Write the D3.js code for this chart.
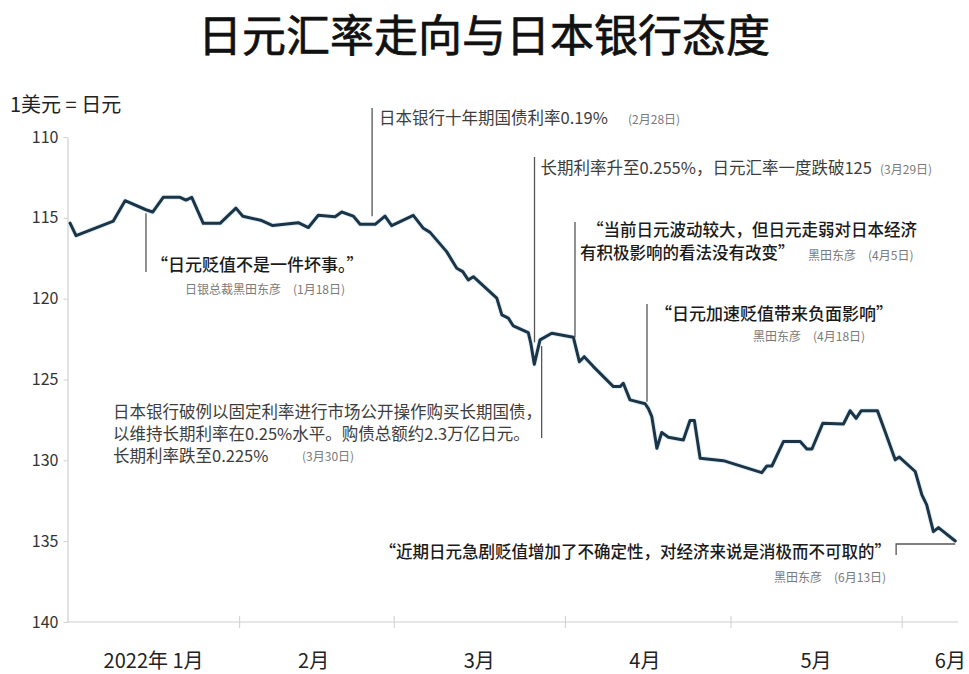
<!DOCTYPE html>
<html><head><meta charset="utf-8">
<script src="https://cdn.jsdelivr.net/npm/d3@7"></script>
<style>
html,body{margin:0;padding:0;background:#fff;}
svg{display:block;font-family:"Noto Sans CJK SC","Noto Sans",sans-serif;}
</style></head><body>
<svg id="chart" width="969" height="674"></svg>
<script>
// ---------- data ----------
const title = "日元汇率走向与日本银行态度";
const unitLabel = "1美元 = 日元";
const yTicks = [110, 115, 120, 125, 130, 135, 140];
const monthTicks = ["2022-02-01T00", "2022-03-01T00", "2022-04-01T00", "2022-05-01T00", "2022-06-01T00"];
const monthLabels = ["2022年 1月", "2月", "3月", "4月", "5月", "6月"];
const monthLabelDates = ["2022-01-16T12", "2022-02-14T12", "2022-03-16T12", "2022-04-15T12", "2022-05-16T12", "2022-06-09T20"];

const dates = [
  "2022-01-01T09","2022-01-02T11","2022-01-09T05","2022-01-11T08","2022-01-15T03","2022-01-16T08",
  "2022-01-18T06","2022-01-21T07","2022-01-22T09","2022-01-23T10","2022-01-25T12","2022-01-28T13",
  "2022-01-31T10","2022-02-01T16","2022-02-05T02","2022-02-07T02","2022-02-11T17","2022-02-13T13",
  "2022-02-15T08","2022-02-18T09","2022-02-19T14","2022-02-21T16","2022-02-22T22","2022-02-25T15",
  "2022-02-27T10","2022-02-28T15","2022-03-04T13","2022-03-06T09","2022-03-07T14","2022-03-10T14",
  "2022-03-12T10","2022-03-13T12","2022-03-14T12","2022-03-15T10","2022-03-19T16","2022-03-20T14",
  "2022-03-21T18","2022-03-22T16","2022-03-25T09","2022-03-25T20","2022-03-26T11","2022-03-27T12",
  "2022-03-29T15","2022-04-02T13","2022-04-03T15","2022-04-04T12","2022-04-06T04","2022-04-09T19",
  "2022-04-11T00","2022-04-11T14","2022-04-12T19","2022-04-15T13","2022-04-16T03","2022-04-16T18",
  "2022-04-17T16","2022-04-18T13","2022-04-19T18","2022-04-22T11","2022-04-23T16","2022-04-24T11",
  "2022-04-25T12","2022-04-29T17","2022-05-06T16","2022-05-07T14","2022-05-08T12","2022-05-10T14",
  "2022-05-13T15","2022-05-14T20","2022-05-15T18","2022-05-17T17","2022-05-21T11","2022-05-22T16",
  "2022-05-23T18","2022-05-24T16","2022-05-27T15","2022-05-29T00","2022-05-30T20","2022-05-31T14",
  "2022-06-03T11","2022-06-04T16","2022-06-05T13","2022-06-06T18","2022-06-07T16","2022-06-10T17"
];
const rates = [
  115.33,116.10,115.20,113.94,114.50,114.64,
  113.73,113.73,113.90,113.73,115.34,115.34,
  114.40,114.90,115.17,115.48,115.30,115.60,
  114.84,114.93,114.64,114.89,115.40,115.40,
  114.89,115.48,114.85,115.65,115.90,117.09,
  118.12,118.33,118.84,118.64,119.97,121.00,
  121.20,121.69,122.10,122.76,124.06,122.55,
  122.14,122.39,123.90,123.59,124.20,125.44,
  125.44,125.23,126.26,126.50,126.80,127.30,
  129.25,128.28,128.57,128.74,127.54,127.54,
  129.87,130.02,130.76,130.35,130.35,128.84,
  128.84,129.30,129.30,127.71,127.75,126.93,
  127.40,126.94,126.94,128.22,129.97,129.80,
  130.69,132.14,132.76,134.41,134.16,134.99
];

// annotations: anchor date on the line, anchor value, texts
const annDates  = ["2022-01-15T03","2022-02-25T02","2022-03-26T12","2022-03-27T19","2022-04-02T20","2022-04-15T21","2022-05-31T00"];
const annValues = [114.6, 115.4, 122.7, 122.5, 122.4, 126.5, 134.99];
const annTexts = [
  ["“日元贬值不是一件坏事。”"],
  ["日本银行十年期国债利率0.19%"],
  ["长期利率升至0.255%，日元汇率一度跌破125"],
  ["日本银行破例以固定利率进行市场公开操作购买长期国债，", "以维持长期利率在0.25%水平。购债总额约2.3万亿日元。", "长期利率跌至0.225%"],
  ["“当前日元波动较大，但日元走弱对日本经济", "有积极影响的看法没有改变”"],
  ["“日元加速贬值带来负面影响”"],
  ["“近期日元急剧贬值增加了不确定性，对经济来说是消极而不可取的”"]
];
const annNotes = [
  "日银总裁黑田东彦　(1月18日)",
  "(2月28日)",
  "(3月29日)",
  "(3月30日)",
  "黑田东彦　(4月5日)",
  "黑田东彦　(4月18日)",
  "黑田东彦　(6月13日)"
];

// ---------- chart ----------
const parse = d3.utcParse("%Y-%m-%dT%H");
const series = dates.map((d, i) => ({ date: parse(d), value: rates[i] }));

const svg = d3.select("#chart");
const plotL = 67.5, plotR = 958, plotT = 137, plotB = 622;

const x = d3.scaleUtc()
  .domain([parse("2022-01-01T00"), parse("2022-06-11T05")])
  .range([68, plotR]);
const y = d3.scaleLinear().domain([110, 140]).range([plotT, plotB]);

// title
svg.append("text")
  .attr("x", 484).attr("y", 33)
  .attr("text-anchor", "middle").attr("dominant-baseline", "central")
  .attr("font-size", 44).attr("font-weight", 400).attr("fill", "#111")
  .attr("stroke", "#111").attr("stroke-width", 0.7)
  .text(title);

// unit label
svg.append("text")
  .attr("x", 10).attr("y", 103)
  .attr("dominant-baseline", "central")
  .attr("font-size", 20).attr("fill", "#222")
  .text(unitLabel);

// y axis
const yAxis = svg.append("g")
  .attr("transform", `translate(${plotL},0)`)
  .call(d3.axisLeft(y).tickValues(yTicks).tickSize(4).tickSizeOuter(0).tickPadding(5).tickFormat(d3.format("d")));
yAxis.select(".domain").attr("stroke", "#cfcfcf").attr("stroke-width", 1.2);
yAxis.selectAll(".tick line").attr("stroke", "#cfcfcf");
yAxis.selectAll(".tick text")
  .attr("font-family", "'Noto Sans CJK SC','Noto Sans',sans-serif")
  .attr("font-size", 16).attr("fill", "#333");

// x axis
const xAxis = svg.append("g")
  .attr("transform", `translate(0,${plotB})`)
  .call(d3.axisBottom(x).tickValues(monthTicks.map(parse)).tickSize(6).tickSizeOuter(0).tickFormat(""));
xAxis.select(".domain").attr("stroke", "#cfcfcf").attr("stroke-width", 1.2).attr("d", `M${plotL},0H${plotR}`);
xAxis.selectAll(".tick line").attr("y1", -6).attr("y2", 6).attr("stroke", "#cfcfcf");

svg.append("g").selectAll("text")
  .data(monthLabels)
  .join("text")
  .attr("x", (d, i) => x(parse(monthLabelDates[i])))
  .attr("y", 659)
  .attr("text-anchor", "middle").attr("dominant-baseline", "central")
  .attr("font-size", 20).attr("fill", "#222")
  .text(d => d);

// series line
const line = d3.line().x(d => x(d.date)).y(d => y(d.value));
svg.append("path")
  .datum(series)
  .attr("fill", "none")
  .attr("stroke", "#cfe6ee")
  .attr("stroke-width", 5)
  .attr("stroke-linejoin", "round")
  .attr("opacity", 0.6)
  .attr("d", line);
svg.append("path")
  .datum(series)
  .attr("fill", "none")
  .attr("stroke", "#1b3447")
  .attr("stroke-width", 3)
  .attr("stroke-linejoin", "round")
  .attr("stroke-linecap", "round")
  .attr("d", line);

// ---------- annotations ----------
const ann = svg.append("g");
const lineColor = "#555";
const quoteStyle = { size: 17, color: "#1a1a1a", weight: 500 };
const quoteStyleSm = { size: 16.5, color: "#1a1a1a", weight: 500 };
const factStyle = { size: 16.5, color: "#3d3d3d", weight: 400 };
const noteStyle = { size: 12, color: "#7a7a7a" };

function vline(xp, y1, y2) {
  ann.append("line").attr("x1", xp).attr("x2", xp).attr("y1", y1).attr("y2", y2)
    .attr("stroke", lineColor).attr("stroke-width", 1.3);
}
function txt(str, xp, yp, st, anchor) {
  ann.append("text").attr("x", xp).attr("y", yp)
    .attr("dominant-baseline", "central")
    .attr("text-anchor", anchor || "start")
    .attr("font-size", st.size).attr("fill", st.color)
    .attr("font-weight", st.weight || 400)
    .text(str);
}
const ax = i => x(parse(annDates[i]));
const ay = i => y(annValues[i]);

// 0: Jan 18
vline(ax(0), ay(0) + 2, 272);
txt(annTexts[0][0], ax(0) + 5, 263, quoteStyle);
txt(annNotes[0], ax(0) + 39, 288, noteStyle);

// 1: Feb 28
vline(ax(1), 108, ay(1) - 8);
txt(annTexts[1][0], ax(1) + 7, 117, factStyle);
txt(annNotes[1], 628, 118, noteStyle);

// 2: Mar 29
vline(ax(2), 157, ay(2));
txt(annTexts[2][0], ax(2) + 6, 167, factStyle);
txt(annNotes[2], 880, 168, noteStyle);

// 3: Mar 30
vline(ax(3), ay(3) + 7, 438);
annTexts[3].forEach((s, k) => txt(s, 113, 411 + k * 22, factStyle));
txt(annNotes[3], 302, 455, noteStyle);

// 4: Apr 5
vline(ax(4), 222, ay(4));
txt(annTexts[4][0], ax(4) + 12, 229, quoteStyleSm);
txt(annTexts[4][1], ax(4) + 5, 252, quoteStyleSm);
txt(annNotes[4], 808, 254, noteStyle);

// 5: Apr 18
vline(ax(5), 304, ay(5) - 2);
txt(annTexts[5][0], ax(5) + 8, 312, quoteStyle);
txt(annNotes[5], 753, 335, noteStyle);

// 6: Jun 13 bracket
const bx = ax(6), by = ay(6) + 3, ex = x(series[series.length - 1].date);
ann.append("path")
  .attr("d", `M${ex},${by}H${bx}V${by + 11}`)
  .attr("fill", "none").attr("stroke", lineColor).attr("stroke-width", 1.3);
txt(annTexts[6][0], bx - 5, 551, quoteStyleSm, "end");
txt(annNotes[6], bx - 10, 576, noteStyle, "end");
</script>
</body></html>
